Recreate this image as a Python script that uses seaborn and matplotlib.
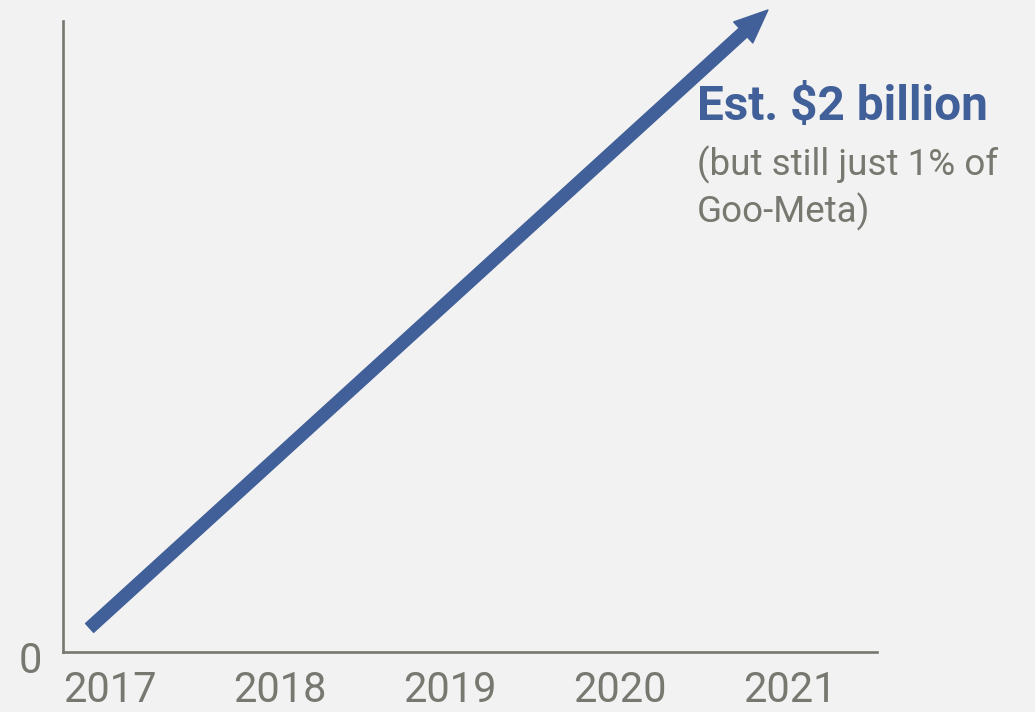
import matplotlib
matplotlib.use("Agg")
import matplotlib.pyplot as plt
import matplotlib.transforms as mtransforms
import seaborn as sns

# Trend arrow endpoints (year, revenue in $ billions)
arrow_x = [2016.88, 2020.87]
arrow_y = [0.075, 2.0]

# Axis ticks
year_ticks = [2017, 2018, 2019, 2020, 2021]
year_labels = ["2017", "2018", "2019", "2020", "2021"]
value_ticks = [0]
value_labels = ["0"]

headline = "Est. \\$2 billion"
subline = "(but still just 1% of\nGoo-Meta)"

BG = "#f2f2f2"
BLUE = "#415f98"
GRAY = "#77786f"

sns.set_theme(style="white")
plt.rcParams["font.family"] = ["Roboto", "DejaVu Sans"]

fig = plt.figure(figsize=(10.35, 7.12), dpi=100, facecolor=BG)
W, H = 1035, 712
ax = fig.add_axes([63 / W, (H - 652) / H, (877 - 63) / W, (652 - 21) / H])
ax.set_facecolor(BG)

ax.set_xlim(2016.7235, 2021.5118)
ax.set_ylim(0, 2.0 * 631 / 642)

sns.despine(ax=ax, top=True, right=True)
for side in ("left", "bottom"):
    ax.spines[side].set_color(GRAY)
    ax.spines[side].set_linewidth(1.9)

ax.set_xticks(year_ticks)
ax.set_xticklabels(year_labels)
ax.set_yticks(value_ticks)
ax.set_yticklabels(value_labels)
ax.tick_params(axis="both", length=0, labelsize=30, colors=GRAY)
ax.tick_params(axis="x", pad=13)
ax.tick_params(axis="y", pad=15)
for lbl in ax.get_yticklabels():
    lbl.set_transform(lbl.get_transform() + mtransforms.ScaledTranslation(0, -5 / 100, fig.dpi_scale_trans))

ax.annotate(
    "",
    xy=(arrow_x[1], arrow_y[1]),
    xytext=(arrow_x[0], arrow_y[0]),
    annotation_clip=False,
    arrowprops=dict(
        arrowstyle="simple,head_length=1.2,head_width=1.02,tail_width=0.43",
        mutation_scale=20,
        color=BLUE,
        shrinkA=0,
        shrinkB=0,
        clip_on=False,
    ),
)

fig.text(697 / W, 1 - 84 / H, headline, color=BLUE, fontsize=34.4,
         fontweight="bold", ha="left", va="top")
fig.text(697 / W, 1 - 146 / H, subline, color=GRAY, fontsize=26.5,
         ha="left", va="top", linespacing=1.27)

fig.savefig("out.png", dpi=100, facecolor=BG)
